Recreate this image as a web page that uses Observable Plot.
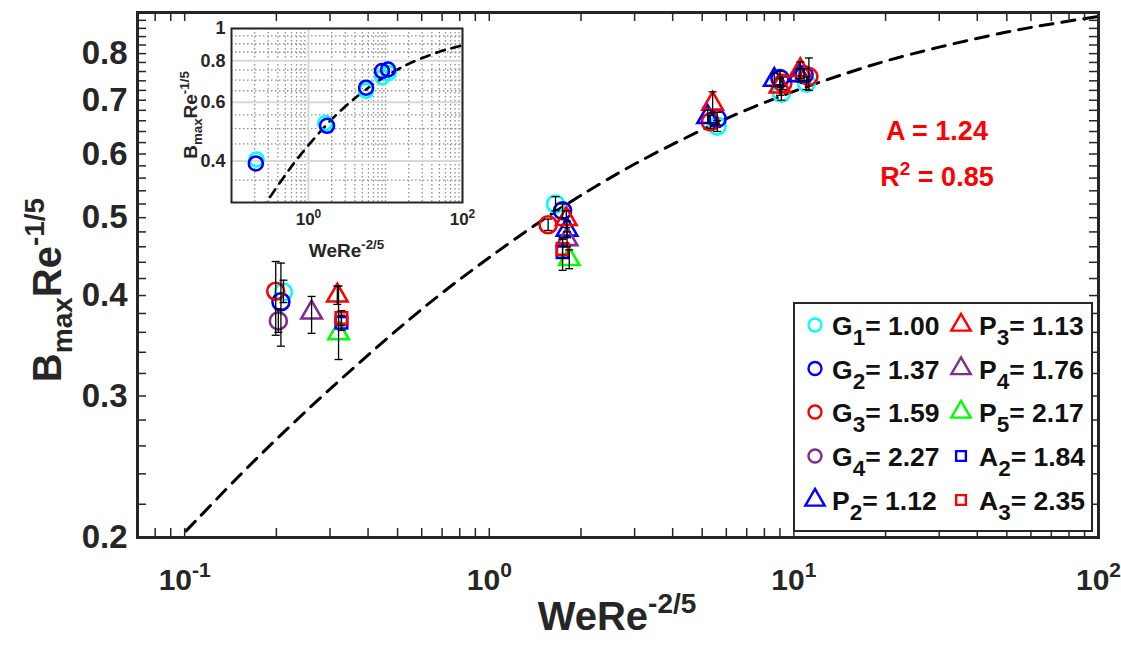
<!DOCTYPE html>
<html><head><meta charset="utf-8">
<script src="https://cdn.jsdelivr.net/npm/d3@7"></script>
<script src="https://cdn.jsdelivr.net/npm/@observablehq/plot@0.6"></script>
<style>
body{margin:0;background:#fff;}
#wrap{position:relative;width:1121px;height:647px;overflow:hidden;}
#main svg,#inset svg{display:block;}
#inset{position:absolute;left:160px;top:18px;}
</style></head><body><div id="wrap"><div id="main"></div><div id="inset"></div></div>
<script>
// ---------------- data ----------------
const seriesKeys    = ["G1","G2","G3","G4","P2","P3","P4","P5","A2","A3"];
const seriesLetters = ["G","G","G","G","P","P","P","P","A","A"];
const seriesSubs    = ["1","2","3","4","2","3","4","5","2","3"];
const seriesValues  = ["1.00","1.37","1.59","2.27","1.12","1.13","1.76","2.17","1.84","2.35"];

const G1_x  = [0.211, 1.65, 5.6, 9.1, 11.0];
const G1_y  = [0.404, 0.520, 0.650, 0.714, 0.735];
const G1_lo = [0.392, 0.510, 0.640, 0.700, 0.722];
const G1_hi = [0.418, 0.531, 0.660, 0.728, 0.748];

const G2_x  = [0.207, 1.74, 5.6, 9.0, 10.8];
const G2_y  = [0.393, 0.510, 0.664, 0.745, 0.753];
const G2_lo = [0.346, 0.500, 0.652, 0.732, 0.740];
const G2_hi = [0.439, 0.520, 0.676, 0.760, 0.766];

const G3_x  = [0.199, 1.56, 5.32, 9.2, 11.2];
const G3_y  = [0.405, 0.490, 0.658, 0.735, 0.749];
const G3_lo = [0.357, 0.482, 0.646, 0.722, 0.720];
const G3_hi = [0.441, 0.498, 0.670, 0.748, 0.790];

const G4_x  = [0.203];
const G4_y  = [0.372];
const G4_lo = [0.360];
const G4_hi = [0.385];

const P2_x  = [1.80, 5.21, 8.62, 10.4];
const P2_y  = [0.483, 0.667, 0.742, 0.752];
const P2_lo = [0.472, 0.655, 0.728, 0.738];
const P2_hi = [0.495, 0.680, 0.756, 0.766];

const P3_x  = [0.317, 1.79, 5.41, 9.0, 10.5];
const P3_y  = [0.400, 0.498, 0.693, 0.728, 0.763];
const P3_lo = [0.390, 0.486, 0.675, 0.710, 0.745];
const P3_hi = [0.411, 0.510, 0.717, 0.745, 0.781];

const P4_x  = [0.261, 1.80];
const P4_y  = [0.381, 0.470];
const P4_lo = [0.359, 0.460];
const P4_hi = [0.399, 0.480];

const P5_x  = [0.32, 1.83];
const P5_y  = [0.359, 0.444];
const P5_lo = [0.333, 0.432];
const P5_hi = [0.411, 0.456];

const A2_x  = [0.327, 1.74];
const A2_y  = [0.370, 0.453];
const A2_lo = [0.362, 0.430];
const A2_hi = [0.378, 0.472];

const A3_x  = [0.327, 1.74];
const A3_y  = [0.375, 0.457];
const A3_lo = [0.367, 0.445];
const A3_hi = [0.383, 0.470];

// fitted curve
const fitX = [0.09, 0.1, 0.15, 0.2, 0.3, 0.5, 0.7, 1, 1.5, 2, 3, 5, 7, 10, 15, 20, 30, 50, 70, 100];
const fitY = [0.195, 0.203, 0.238, 0.265, 0.306, 0.363, 0.403, 0.446, 0.497, 0.533, 0.583, 0.643, 0.681, 0.718, 0.757, 0.783, 0.815, 0.851, 0.871, 0.890];

// ticks
const xTickVals = [0.08,0.09,0.1,0.2,0.3,0.4,0.5,0.6,0.7,0.8,0.9,1,2,3,4,5,6,7,8,9,10,20,30,40,50,60,70,80,90,100];
const xLabelVals = [0.1, 1, 10, 100];
const xLabelExp = ["-1","0","1","2"];
const yTickVals = [0.2,0.22,0.24,0.26,0.28,0.3,0.32,0.34,0.36,0.38,0.4,0.42,0.44,0.46,0.48,0.5,0.52,0.54,0.56,0.58,0.6,0.62,0.64,0.66,0.68,0.7,0.72,0.74,0.76,0.78,0.8,0.82,0.84,0.86,0.88,0.9];
const yLabelVals = [0.2,0.3,0.4,0.5,0.6,0.7,0.8];

const insetXMajor = [1, 100];
const insetXMinor = [0.2,0.3,0.4,0.5,0.6,0.7,0.8,0.9,2,3,4,5,6,7,8,9,10,20,30,40,50,60,70,80,90];
const insetYMajor = [0.4, 0.6, 0.8, 1];
const insetYMinor = [0.35,0.45,0.5,0.55,0.65,0.7,0.75,0.85,0.9,0.95];
const insetXLabelVals = [1, 100];
const insetXLabelExp = ["0","2"];
const insetYLabelVals = [0.4, 0.6, 0.8, 1];
const insetYLabelText = ["0.4","0.6","0.8","1"];

const fitA = "A = 1.24";
const fitR2 = "0.85";

// ---------------- styles ----------------
const seriesColor = ["#00ffff","#0000ff","#ff0000","#7e2f8e","#0000ff","#ff0000","#7e2f8e","#00ff00","#0000ff","#ff0000"];
const seriesShape = ["circle","circle","circle","circle","triangle","triangle","triangle","triangle","square","square"];
const shapeR = {circle: 8.5, triangle: 7.6, square: 6.5};
const legendR = {circle: 6.5, triangle: 7.2, square: 5.5};

const FONT = '"Liberation Sans", Arial, Helvetica, sans-serif';
const AX = "#262626";

const seriesX  = [G1_x,G2_x,G3_x,G4_x,P2_x,P3_x,P4_x,P5_x,A2_x,A3_x];
const seriesY  = [G1_y,G2_y,G3_y,G4_y,P2_y,P3_y,P4_y,P5_y,A2_y,A3_y];
const seriesLo = [G1_lo,G2_lo,G3_lo,G4_lo,P2_lo,P3_lo,P4_lo,P5_lo,A2_lo,A3_lo];
const seriesHi = [G1_hi,G2_hi,G3_hi,G4_hi,P2_hi,P3_hi,P4_hi,P5_hi,A2_hi,A3_hi];

const rows = [];
seriesKeys.forEach((k, s) => seriesX[s].forEach((x, i) =>
  rows.push({s, key: k, x, y: seriesY[s][i], lo: seriesLo[s][i], hi: seriesHi[s][i]})));
const fit = fitX.map((x, i) => ({x, y: fitY[i]}));

const capSymbol = {draw(ctx, size) { const w = Math.sqrt(size / Math.PI); ctx.moveTo(-w, 0); ctx.lineTo(w, 0); }};

// turn "10" tick texts into base + superscript exponent within one text element
function powerLabels(svg, cls, exps, expSize, expShift) {
  d3.select(svg).selectAll(`.${cls} text`).each(function (d, i) {
    const t = d3.select(this);
    t.text(null);
    t.append("tspan").text("10");
    t.append("tspan").attr("dy", -expShift).attr("font-size", expSize).text(exps[i]);
  });
}

// ---------------- main plot ----------------
const W = 1121, H = 647, ML = 137, MR = 23, MT = 12, MB = 110;
const FW = W - ML - MR, FH = H - MT - MB;
const TL = 9;

const main = Plot.plot({
  width: W, height: H,
  marginLeft: ML, marginRight: MR, marginTop: MT, marginBottom: MB,
  x: {type: "log", domain: [0.07, 100], axis: null},
  y: {type: "log", domain: [0.2, 0.9], axis: null},
  style: {background: "white", fontFamily: FONT},
  marks: [
    Plot.line(fit, {x: "x", y: "y", stroke: "black", strokeWidth: 3, strokeDasharray: "13,9", curve: "catmull-rom", clip: true}),
    Plot.ruleX(xTickVals, {x: d => d, insetTop: FH - TL, stroke: AX, strokeWidth: 1.5}),
    Plot.ruleX(xTickVals, {x: d => d, insetBottom: FH - TL, stroke: AX, strokeWidth: 1.5}),
    Plot.ruleY(yTickVals, {y: d => d, insetRight: FW - TL, stroke: AX, strokeWidth: 1.5}),
    Plot.ruleY(yTickVals, {y: d => d, insetLeft: FW - TL, stroke: AX, strokeWidth: 1.5}),
    ...seriesKeys.map((k, s) => Plot.dot(rows.filter(r => r.s === s), {
      x: "x", y: "y", symbol: seriesShape[s], r: shapeR[seriesShape[s]],
      stroke: seriesColor[s], strokeWidth: 2.6, fill: "none"})),
    Plot.ruleX(rows, {x: "x", y1: "lo", y2: "hi", stroke: "black", strokeWidth: 1.3}),
    Plot.dot(rows, {x: "x", y: "lo", symbol: capSymbol, r: 4, stroke: "black", strokeWidth: 1.3}),
    Plot.dot(rows, {x: "x", y: "hi", symbol: capSymbol, r: 4, stroke: "black", strokeWidth: 1.3}),
    Plot.text(yLabelVals, {y: d => d, text: d => d.toFixed(1), frameAnchor: "left", textAnchor: "end", dx: -10,
      fontSize: 33, fontWeight: "bold", fill: AX}),
    Plot.text(xLabelVals, {x: d => d, text: () => "10", frameAnchor: "bottom", textAnchor: "middle", dy: 52,
      fontSize: 30, fontWeight: "bold", fill: AX, className: "xt-lab"}),
    Plot.frame({stroke: AX, strokeWidth: 3})
  ]
});
document.getElementById("main").appendChild(main);
powerLabels(main, "xt-lab", xLabelExp, 21, 13);

function richText(sel, x, y, parts, size, opts = {}) {
  const t = sel.append("text").attr("x", x).attr("y", y)
    .attr("font-size", size).attr("font-weight", "bold").attr("fill", opts.fill || AX)
    .attr("text-anchor", opts.anchor || "start").attr("font-family", FONT);
  if (opts.rotate) t.attr("transform", `rotate(${opts.rotate},${x},${y})`);
  let cur = 0;
  const small = opts.small || 0.7;
  for (const [s, k] of parts) {
    const target = k === "sub" ? size * (opts.subShift || 0.28) : k === "sup" ? -size * 0.42 : 0;
    t.append("tspan").attr("dy", target - cur).attr("font-size", k === "n" ? size : size * small).text(s);
    cur = target;
  }
  return t;
}

const msvg = d3.select(main);
// axis labels
richText(msvg, 617, 630, [["WeRe","n"],["-2/5","sup"]], 40, {anchor: "middle"});
richText(msvg, 61, 290, [["B","n"],["max","sub"],["Re","n"],["-1/5","sup"]], 40, {anchor: "middle", rotate: -90});
// fit annotation
richText(msvg, 937, 140, [[fitA, "n"]], 27, {anchor: "middle", fill: "#ff0000"});
richText(msvg, 937, 186, [["R","n"],["2","sup"],[" = " + fitR2,"n"]], 27, {anchor: "middle", fill: "#ff0000"});

// legend
const lg = msvg.append("g");
lg.append("rect").attr("x", 794).attr("y", 303).attr("width", 298).attr("height", 228)
  .attr("fill", "white").attr("stroke", AX).attr("stroke-width", 2);
const rowY = [325, 368.5, 412, 456, 500];
const colMarkX = [815, 961], colTextX = [832, 979];
const symMap = {circle: d3.symbolCircle, triangle: d3.symbolTriangle, square: d3.symbolSquare};
seriesKeys.forEach((k, s) => {
  const col = s < 5 ? 0 : 1, row = s % 5;
  const shape = seriesShape[s], r = legendR[shape];
  lg.append("path").attr("d", d3.symbol(symMap[shape], Math.PI * r * r)())
    .attr("transform", `translate(${colMarkX[col]},${rowY[row]})`)
    .attr("fill", "none").attr("stroke", seriesColor[s]).attr("stroke-width", 2.4);
  richText(lg, colTextX[col], rowY[row] + 10,
    [[seriesLetters[s], "n"], [seriesSubs[s], "sub"], ["= " + seriesValues[s], "n"]], 26.5,
    {fill: "#111", subShift: 0.38, small: 0.85});
});

// ---------------- inset ----------------
const IW = 310, IH = 255, IML = 71, IMT = 10, IMR = 8, IMB = 71;
const inset = Plot.plot({
  width: IW, height: IH,
  marginLeft: IML, marginRight: IMR, marginTop: IMT, marginBottom: IMB,
  x: {type: "log", domain: [0.1, 100], axis: null},
  y: {type: "log", domain: [0.3, 1], axis: null},
  style: {background: "transparent", fontFamily: FONT, overflow: "visible"},
  marks: [
    Plot.frame({fill: "white"}),
    Plot.ruleX(insetXMinor, {x: d => d, stroke: "#8f8f8f", strokeWidth: 1.3, strokeDasharray: "1.5,2.5"}),
    Plot.ruleY(insetYMinor, {y: d => d, stroke: "#8f8f8f", strokeWidth: 1.3, strokeDasharray: "1.5,2.5"}),
    Plot.ruleX(insetXMajor, {x: d => d, stroke: "#d8d8d8", strokeWidth: 2}),
    Plot.ruleY(insetYMajor, {y: d => d, stroke: "#d8d8d8", strokeWidth: 2}),
    Plot.line(fit, {x: "x", y: "y", stroke: "black", strokeWidth: 2.6, strokeDasharray: "9,7", curve: "catmull-rom", clip: true}),
    Plot.dot(rows.filter(r => r.s === 0), {x: "x", y: "y", r: 7, stroke: seriesColor[0], strokeWidth: 2.6, fill: "none"}),
    Plot.dot(rows.filter(r => r.s === 1), {x: "x", y: "y", r: 7, stroke: seriesColor[1], strokeWidth: 2.6, fill: "none"}),
    Plot.frame({stroke: AX, strokeWidth: 2}),
    Plot.text(insetYLabelVals, {y: d => d, text: (d, i) => insetYLabelText[i], frameAnchor: "left", textAnchor: "end", dx: -6,
      fontSize: 18, fontWeight: "bold", fill: AX}),
    Plot.text(insetXLabelVals, {x: d => d, text: () => "10", frameAnchor: "bottom", textAnchor: "middle", dy: 22,
      fontSize: 17, fontWeight: "bold", fill: AX, className: "ixt-lab"})
  ]
});
document.getElementById("inset").appendChild(inset);
powerLabels(inset, "ixt-lab", insetXLabelExp, 12, 7);
const isvg = d3.select(inset);
richText(isvg, IML + (IW - IML - IMR) / 2, 239, [["WeRe","n"],["-2/5","sup"]], 19, {anchor: "middle"});
richText(isvg, 37, IMT + (IH - IMT - IMB) / 2, [["B","n"],["max","sub"],["Re","n"],["-1/5","sup"]], 19, {anchor: "middle", rotate: -90});
</script></body></html>
